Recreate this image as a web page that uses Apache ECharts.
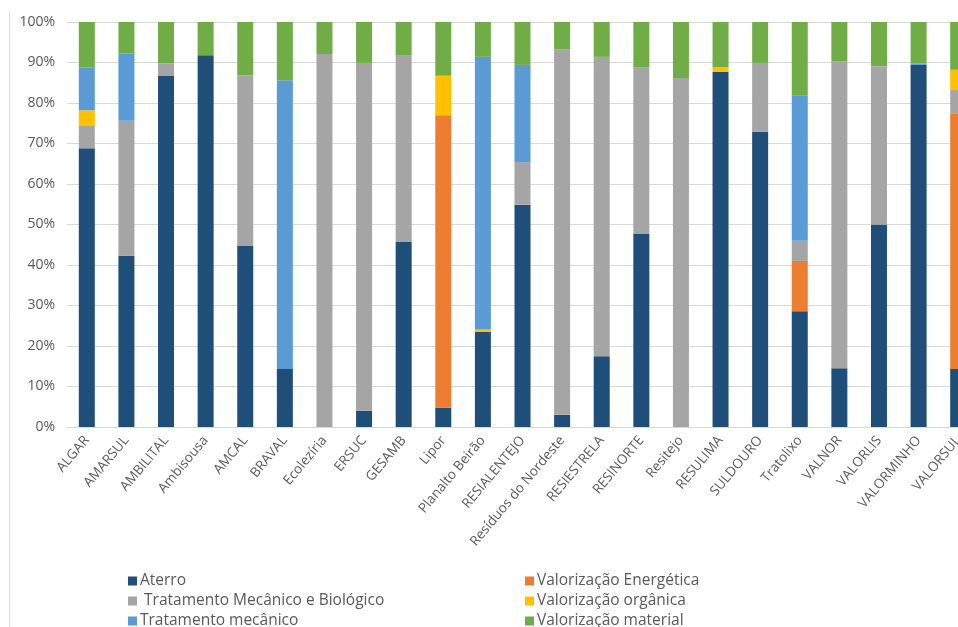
<!DOCTYPE html>
<html>
<head>
<meta charset="utf-8">
<script src="https://cdn.jsdelivr.net/npm/echarts@6/dist/echarts.min.js"></script>
<style>
  html, body { margin: 0; padding: 0; background: #fff; overflow: hidden; }
  /* a área do gráfico continua para lá da margem direita (VALORSUL aparece cortado) */
  #chart { width: 1000px; height: 627px; }
</style>
</head>
<body>
<div id="chart"></div>
<script>
// categorias (sistemas de gestão de resíduos)
var categories = ['ALGAR', 'AMARSUL', 'AMBILITAL', 'Ambisousa', 'AMCAL', 'BRAVAL', 'Ecolezíria', 'ERSUC', 'GESAMB', 'Lipor',
  'Planalto Beirão', 'RESIALENTEJO', 'Resíduos do Nordeste', 'RESIESTRELA', 'RESINORTE', 'Resitejo', 'RESULIMA',
  'SULDOURO', 'Tratolixo', 'VALNOR', 'VALORLIS', 'VALORMINHO', 'VALORSUL'];

// percentagens
var aterro = [68.8, 42.3, 86.8, 91.8, 44.7, 14.3, 0, 4.0, 45.7, 4.8, 23.5, 54.9, 3.0, 17.5, 47.8, 0, 87.7, 72.9, 28.6, 14.5, 50.0, 89.4, 14.3];
var valEnergetica = [0, 0, 0, 0, 0, 0, 0, 0, 0, 72.2, 0, 0, 0, 0, 0, 0, 0, 0, 12.4, 0, 0, 0, 63.0];
var tmb = [5.7, 33.3, 3.0, 0, 42.1, 0, 92.1, 85.9, 46.0, 0, 0, 10.5, 90.2, 73.9, 41.0, 86.2, 0, 17.0, 5.0, 75.8, 39.1, 0, 5.9];
var valOrganica = [3.7, 0, 0, 0, 0, 0, 0, 0, 0, 9.7, 0.6, 0, 0, 0, 0, 0, 1.1, 0, 0, 0, 0, 0, 5.0];
var tratMecanico = [10.6, 16.7, 0, 0, 0, 71.3, 0, 0, 0, 0, 67.3, 24.0, 0, 0, 0, 0, 0, 0, 35.9, 0, 0, 0.4, 0];
var valMaterial = [11.2, 7.7, 10.2, 8.2, 13.2, 14.4, 7.9, 10.1, 8.3, 13.3, 8.6, 10.6, 6.8, 8.6, 11.2, 13.8, 11.2, 10.1, 18.1, 9.7, 10.9, 10.2, 11.8];

var yTicks = [0, 10, 20, 30, 40, 50, 60, 70, 80, 90, 100];

var font = '"Open Sans", sans-serif';
var txtColor = '#595959';

function bar(name, data, color) {
  return {
    name: name,
    type: 'bar',
    stack: 'total',
    barWidth: 16,
    itemStyle: { color: color },
    data: data
  };
}

// uma legenda por entrada, para ficar em duas colunas como no Excel
function legendItem(name, left, top) {
  return {
    left: left, top: top, padding: 0,
    icon: 'rect', itemWidth: 9, itemHeight: 9,
    textStyle: { fontSize: 15.5, lineHeight: 16, color: txtColor, fontFamily: font, padding: [0, 0, 0, -2] },
    data: [name]
  };
}

var chart = echarts.init(document.getElementById('chart'));
chart.setOption({
  animation: false,
  textStyle: { fontFamily: font },
  grid: { left: 67, top: 22, width: 911, height: 405, containLabel: false },
  legend: [
    legendItem('Aterro', 128, 573),
    legendItem(' Tratamento Mecânico e Biológico', 128, 593),
    legendItem('Tratamento mecânico', 128, 613),
    legendItem('Valorização Energética', 525, 573),
    legendItem('Valorização orgânica', 525, 593),
    legendItem('Valorização material', 525, 613)
  ],
  graphic: [
    { type: 'line', shape: { x1: 9.5, y1: 12, x2: 9.5, y2: 627 }, style: { stroke: '#d9d9d9', lineWidth: 1 } }
  ],
  xAxis: {
    type: 'category',
    data: categories,
    axisLine: { lineStyle: { color: '#d9d9d9' } },
    axisTick: { show: false },
    axisLabel: { interval: 0, rotate: 50, fontSize: 13.5, color: txtColor, margin: 11 }
  },
  yAxis: {
    type: 'value',
    min: yTicks[0],
    max: yTicks[yTicks.length - 1],
    interval: 10,
    axisLine: { show: false },
    axisTick: { show: false },
    splitLine: { lineStyle: { color: '#d9d9d9' } },
    axisLabel: { formatter: '{value}%', fontSize: 14, color: txtColor, margin: 12 }
  },
  series: [
    bar('Aterro', aterro, '#1f4e79'),
    bar('Valorização Energética', valEnergetica, '#ed7d31'),
    bar(' Tratamento Mecânico e Biológico', tmb, '#a5a5a5'),
    bar('Valorização orgânica', valOrganica, '#ffc000'),
    bar('Tratamento mecânico', tratMecanico, '#5b9bd5'),
    bar('Valorização material', valMaterial, '#70ad47')
  ]
});
</script>
</body>
</html>
